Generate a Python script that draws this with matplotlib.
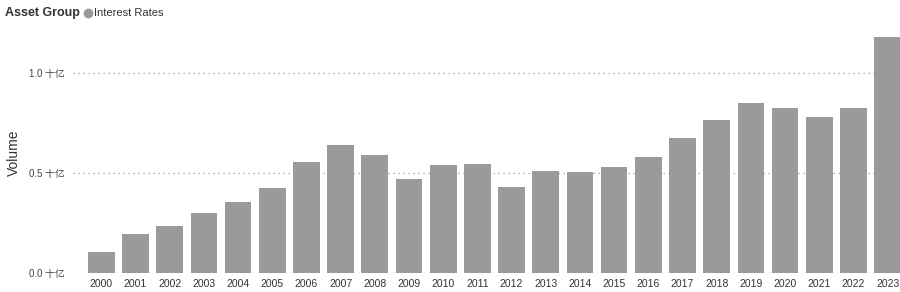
import matplotlib
matplotlib.use("Agg")
import matplotlib.pyplot as plt
from matplotlib.lines import Line2D

plt.rcParams['font.family'] = ['Liberation Sans', 'Noto Sans CJK SC', 'DejaVu Sans']

years = [str(y) for y in range(2000, 2024)]
volume = [0.105, 0.195, 0.235, 0.30, 0.355, 0.425, 0.555, 0.64, 0.59, 0.47,
          0.54, 0.545, 0.43, 0.51, 0.505, 0.53, 0.58, 0.675, 0.765, 0.85,
          0.825, 0.78, 0.825, 1.18]
ytick_vals = [0.0, 0.5, 1.0]
ytick_labels = ["0.0 十亿", "0.5 十亿", "1.0 十亿"]
series_name = "Interest Rates"
legend_title = "Asset Group"

bar_color = "#9a9a9a"

fig = plt.figure(figsize=(9, 2.92), dpi=100)
ax = fig.add_axes([0.081, 0.065, 0.919, 0.822])

x = list(range(len(years)))
ax.bar(x, volume, width=0.78, color=bar_color, zorder=2)

ax.set_xlim(-0.83, 23.36)
ax.set_ylim(0, 1.2)
ax.set_yticks(ytick_vals)
ax.set_yticklabels(ytick_labels, fontsize=7, color="#444444")
ax.set_xticks(x)
ax.set_xticklabels(years, fontsize=7.5, color="#333333")
ax.tick_params(axis='both', length=0, pad=4)
ax.tick_params(axis='y', pad=6)
for s in ax.spines.values():
    s.set_visible(False)
ax.grid(axis='y', linestyle=(0, (1, 3)), color="#999999", linewidth=0.9, zorder=0)
ax.set_ylabel("Volume", fontsize=10, color="#333333", labelpad=6)

fig.text(0.006, 0.955, legend_title, fontsize=9, color="#333333",
         fontweight='bold', va='center', ha='left')
fig.add_artist(Line2D([0.098], [0.955], marker='o', markersize=6,
                      color=bar_color, transform=fig.transFigure))
fig.text(0.1045, 0.955, series_name, fontsize=8, color="#333333",
         va='center', ha='left')

fig.savefig("out.png", dpi=100)
